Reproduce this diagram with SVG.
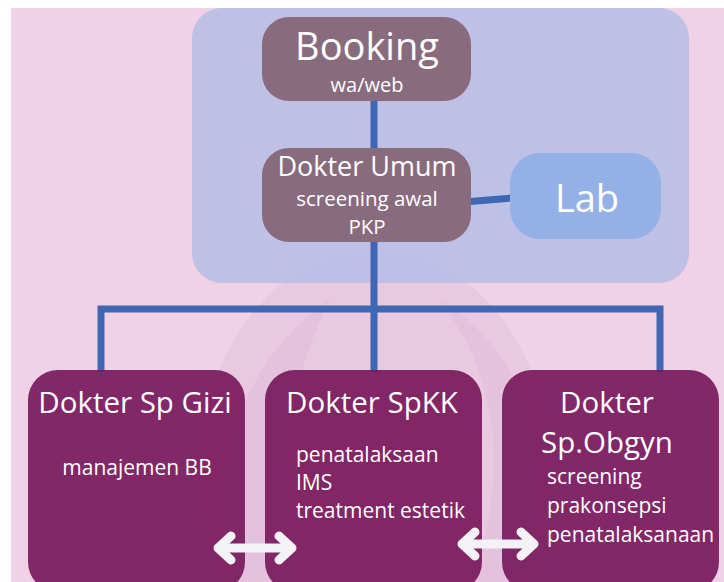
<svg xmlns="http://www.w3.org/2000/svg" width="724" height="582" viewBox="0 0 724 582">
<style>
.t{font-family:"Open Sans","Noto Sans","Liberation Sans",sans-serif;fill:#ffffff;}
.c{text-anchor:middle;}
.h{font-size:29.5px;}
.s{font-size:21px;}
.conn{stroke:#3f67b4;stroke-width:7;fill:none;}
.dark{fill:#7a1a5d;fill-opacity:0.93;}
.arrow{stroke:#f2f2f7;stroke-width:9;fill:none;stroke-linecap:round;stroke-linejoin:round;}
</style>
<rect x="0" y="0" width="724" height="582" fill="#ffffff"/>
<rect x="11" y="8" width="713" height="574" fill="#f0d2e6"/>
<g id="watermark" opacity="0.28">
<ellipse cx="375" cy="470" rx="175" ry="220" fill="#d6b4d4"/>
<path d="M230 582 C200 470 250 350 330 300 C290 380 270 480 300 582 Z" fill="#c79ac3"/>
<path d="M440 300 C540 360 560 480 520 582 L470 582 C510 480 500 380 440 300 Z" fill="#c79ac3"/>
</g>
<rect x="192" y="8" width="497" height="275" rx="30" fill="#bcbfe6" fill-opacity="0.95"/>
<g id="connectors">
<line class="conn" x1="374" y1="100" x2="374" y2="150"/>
<line class="conn" x1="464" y1="202" x2="512" y2="198"/>
<polyline class="conn" points="101,372 101,309 660,309 660,372"/>
<line class="conn" x1="374" y1="240" x2="374" y2="372"/>
</g>
<g id="booking">
<rect x="262" y="17" width="209" height="84" rx="27" fill="#896b7e"/>
<text class="t c" x="367" y="60" font-size="38">Booking</text>
<text class="t c" x="367" y="92" font-size="20">wa/web</text>
</g>
<g id="umum">
<rect x="262" y="148" width="209" height="94" rx="27" fill="#896b7e"/>
<text class="t c" x="367" y="176" font-size="27">Dokter Umum</text>
<text class="t c" x="367" y="206" font-size="20.5">screening awal</text>
<text class="t c" x="367" y="234" font-size="20.5">PKP</text>
</g>
<g id="lab">
<rect x="510" y="153" width="151" height="86" rx="30" fill="#93b1e6"/>
<text class="t c" x="587" y="212" font-size="38">Lab</text>
</g>
<g id="gizi">
<rect class="dark" x="28" y="370" width="217" height="222" rx="30"/>
<text class="t c h" x="135" y="413">Dokter Sp Gizi</text>
<text class="t c s" x="137" y="475">manajemen BB</text>
</g>
<g id="spkk">
<rect class="dark" x="265" y="370" width="217" height="222" rx="30"/>
<text class="t c h" x="372" y="413">Dokter SpKK</text>
<text class="t s" x="296" y="462">penatalaksaan</text>
<text class="t s" x="296" y="490">IMS</text>
<text class="t s" x="296" y="518">treatment estetik</text>
</g>
<g id="obgyn">
<rect class="dark" x="502" y="370" width="217" height="222" rx="30"/>
<text class="t c h" x="607" y="413">Dokter</text>
<text class="t c h" x="607" y="453">Sp.Obgyn</text>
<text class="t s" x="547" y="484">screening</text>
<text class="t s" x="547" y="513">prakonsepsi</text>
<text class="t s" x="547" y="542">penatalaksanaan</text>
</g>
<g id="arrows">
<path class="arrow" d="M218 548 L292 548 M231 536 L218 548 L231 560 M279 536 L292 548 L279 560"/>
<path class="arrow" d="M462 544 L534 544 M475 532 L462 544 L475 556 M521 532 L534 544 L521 556"/>
</g>
</svg>
